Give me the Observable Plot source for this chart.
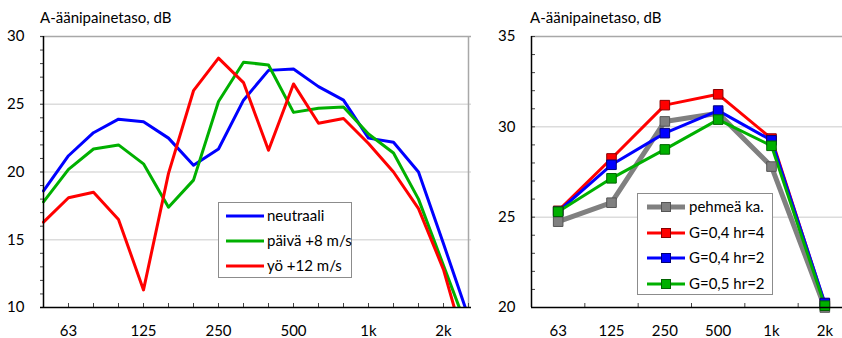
<!DOCTYPE html>
<html><head><meta charset="utf-8">
<script src="https://cdn.jsdelivr.net/npm/d3@7"></script>
<script src="https://cdn.jsdelivr.net/npm/@observablehq/plot@0.6"></script>
<style>
body{margin:0;overflow:hidden;background:#fff;font-family:Lato,sans-serif;color:#000}
#wrap{position:relative;width:842px;height:338px;overflow:hidden}
#wrap > .panel{position:absolute;top:0}
.title{position:absolute;top:8px;font-size:15px;line-height:18px;white-space:nowrap}
.legend{position:absolute;background:#fff;border:1px solid #8c8c8c;box-sizing:border-box}
.legend .sw{position:absolute}
.legend .lb{position:absolute;font-size:15px;line-height:20px;white-space:nowrap}
</style></head><body><div id="wrap"></div>
<script>
// ---- Left panel data (third-octave bands) ----
const bands = ["50","63","80","100","125","160","200","250","315","400","500","630","800","1k","1.25k","1.6k","2k","2.5k"];
const bandLabels = ["63","125","250","500","1k","2k"];
const neutraali = [18.6, 21.2, 22.9, 23.9, 23.7, 22.5, 20.5, 21.7, 25.3, 27.5, 27.6, 26.3, 25.3, 22.5, 22.2, 20.0, 14.7, 9.3];
const paiva     = [17.8, 20.2, 21.7, 22.0, 20.6, 17.4, 19.4, 25.2, 28.1, 27.9, 24.4, 24.7, 24.8, 22.8, 21.4, 18.0, 13.1, 8.2];
const yo        = [16.3, 18.1, 18.5, 16.5, 11.3, 19.9, 26.0, 28.4, 26.6, 21.6, 26.5, 23.6, 23.95, 22.1, 20.0, 17.3, 12.8, 6.3];
const leftNames  = ["neutraali", "päivä +8 m/s", "yö +12 m/s"];
const leftColors = ["#0000ff", "#00b000", "#ff0000"];
const leftValues = [neutraali, paiva, yo];

// ---- Right panel data (octave bands) ----
const octaves = ["63","125","250","500","1k","2k"];
const pehmea = [24.75, 25.8, 30.3, 30.75, 27.8, 20.0];
const g04hr4 = [25.35, 28.25, 31.2, 31.8, 29.35, 20.2];
const g04hr2 = [25.3, 27.9, 29.65, 30.9, 29.25, 20.25];
const g05hr2 = [25.3, 27.15, 28.75, 30.4, 28.95, 20.1];
const rightNames   = ["pehmeä ka.", "G=0,4 hr=4", "G=0,4 hr=2", "G=0,5 hr=2"];
const rightColors  = ["#808080", "#ff0000", "#0000ff", "#00b000"];
const rightEdges   = ["#555555", "#8a0000", "#00007a", "#006400"];
const rightWidths  = [5, 3, 3, 3];
const rightValues  = [pehmea, g04hr4, g04hr2, g05hr2];

const yTitle = "A-äänipainetaso, dB";
const wrap = document.getElementById("wrap");
const style = {fontFamily: "Lato, sans-serif", fontSize: "15px", color: "#000", background: "transparent", overflow: "visible"};

// ---- Left chart ----
const leftMarks = [
  Plot.ruleY([15, 20, 25], {stroke: "#dcdcdc", strokeWidth: 1.5}),
  Plot.ruleY([30], {stroke: "#a8a8a8", strokeWidth: 1.5}),
  Plot.ruleX([bands[bands.length - 1]], {stroke: "#a8a8a8", strokeWidth: 1.5}),
  Plot.axisX({tickSize: -4, tickPadding: 22, tickFormat: d => bandLabels.includes(d) ? d : "", label: null, stroke: "#444"}),
  Plot.axisY({ticks: d3.range(10, 31), tickSize: -4, tickPadding: 20, tickFormat: d => d % 5 === 0 ? String(d) : "", label: null, stroke: "#444"})
];
leftValues.forEach((vals, k) => {
  const data = vals.map((v, i) => ({band: bands[i], value: v}));
  leftMarks.push(Plot.line(data, {x: "band", y: "value", stroke: leftColors[k], strokeWidth: 3, clip: true}));
});
leftMarks.push(Plot.ruleX([bands[0]], {stroke: "#000", strokeWidth: 1.5}));
leftMarks.push(Plot.ruleY([10], {stroke: "#000", strokeWidth: 1.5}));

const left = Plot.plot({
  width: 480, height: 338, marginLeft: 40, marginRight: 9, marginTop: 36, marginBottom: 31,
  style,
  x: {type: "point", domain: bands, padding: 0},
  y: {domain: [10, 30]},
  marks: leftMarks
});
left.classList.add("panel");
left.style.left = "0px";
wrap.appendChild(left);

// ---- Right chart ----
const rightMarks = [
  Plot.ruleY([25, 30], {stroke: "#dcdcdc", strokeWidth: 1.5}),
  Plot.ruleY([35], {stroke: "#a8a8a8", strokeWidth: 1.5}),
  Plot.axisX({ticks: d3.range(0, octaves.length), tickSize: 0, tickPadding: 18, tickFormat: i => octaves[i], label: null}),
  Plot.axisX({ticks: d3.range(0.5, octaves.length, 1), tickSize: -4, tickPadding: 0, tickFormat: () => "", label: null, stroke: "#444"}),
  Plot.axisY({ticks: d3.range(20, 36), tickSize: -4, tickPadding: 20, tickFormat: d => d % 5 === 0 ? String(d) : "", label: null, stroke: "#444"})
];
rightValues.forEach((vals, k) => {
  const data = vals.map((v, i) => ({i, value: v}));
  rightMarks.push(Plot.line(data, {x: "i", y: "value", stroke: rightColors[k], strokeWidth: rightWidths[k]}));
});
rightValues.forEach((vals, k) => {
  const data = vals.map((v, i) => ({i, value: v}));
  rightMarks.push(Plot.dot(data, {x: "i", y: "value", symbol: "square", r: 5.4, fill: rightColors[k], stroke: rightEdges[k], strokeWidth: 1}));
});
rightMarks.push(Plot.ruleX([-0.5], {stroke: "#000", strokeWidth: 1.5}));
rightMarks.push(Plot.ruleY([20], {stroke: "#000", strokeWidth: 1.5}));

const right = Plot.plot({
  width: 400, height: 338, marginLeft: 51, marginRight: 29, marginTop: 36, marginBottom: 31,
  style,
  x: {domain: [-0.5, octaves.length - 0.5]},
  y: {domain: [20, 35]},
  marks: rightMarks
});
right.classList.add("panel");
right.style.left = "480px";
wrap.appendChild(right);

// ---- Titles ----
[[40], [530]].forEach(([x]) => {
  const t = document.createElement("div");
  t.className = "title";
  t.style.left = x + "px";
  t.textContent = yTitle;
  wrap.appendChild(t);
});

// ---- Legends ----
function legend(box, names, colors, opts) {
  const el = document.createElement("div");
  el.className = "legend";
  Object.assign(el.style, {left: box[0] + "px", top: box[1] + "px", width: box[2] + "px", height: box[3] + "px"});
  names.forEach((name, k) => {
    const cy = opts.rows[k];
    const ns = "http://www.w3.org/2000/svg";
    const svg = document.createElementNS(ns, "svg");
    svg.setAttribute("class", "sw");
    svg.setAttribute("width", opts.swW);
    svg.setAttribute("height", 14);
    svg.style.left = opts.swX + "px";
    svg.style.top = (cy - 7) + "px";
    const ln = document.createElementNS(ns, "line");
    ln.setAttribute("x1", 0); ln.setAttribute("x2", opts.swW);
    ln.setAttribute("y1", 7); ln.setAttribute("y2", 7);
    ln.setAttribute("stroke", colors[k]);
    ln.setAttribute("stroke-width", opts.widths ? opts.widths[k] : 3);
    svg.appendChild(ln);
    if (opts.edges) {
      const r = document.createElementNS(ns, "rect");
      const s = 9;
      r.setAttribute("x", opts.swW / 2 - s / 2); r.setAttribute("y", 7 - s / 2);
      r.setAttribute("width", s); r.setAttribute("height", s);
      r.setAttribute("fill", colors[k]); r.setAttribute("stroke", opts.edges[k]);
      svg.appendChild(r);
    }
    el.appendChild(svg);
    const lb = document.createElement("div");
    lb.className = "lb";
    lb.style.left = opts.txtX + "px";
    lb.style.top = (cy - 11) + "px";
    lb.textContent = name;
    el.appendChild(lb);
  });
  wrap.appendChild(el);
}
legend([218, 202, 134, 76], leftNames, leftColors, {rows: [13, 38, 63], swX: 7, swW: 38, txtX: 48});
legend([637, 193, 136, 102], rightNames, rightColors, {rows: [13, 39, 64, 90], swX: 9, swW: 38, txtX: 51, edges: rightEdges, widths: rightWidths});
</script>
</body></html>
